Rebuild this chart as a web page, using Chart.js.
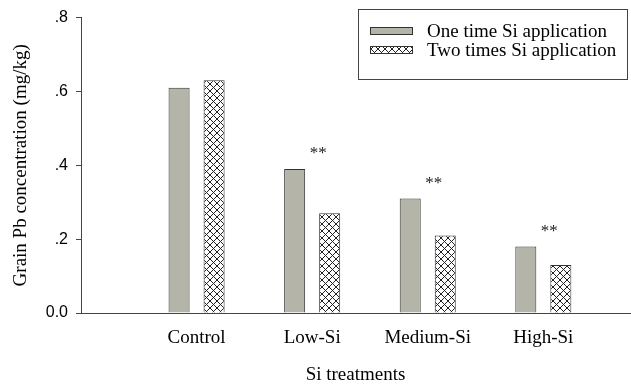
<!DOCTYPE html>
<html>
<head>
<meta charset="utf-8">
<script src="https://cdn.jsdelivr.net/npm/chart.js@4/dist/chart.umd.min.js"></script>
<style>
  html, body { margin: 0; padding: 0; background: #fff; overflow: hidden; }
  #wrap { width: 631px; height: 385px; position: relative; }
</style>
</head>
<body>
<div id="wrap"><canvas id="c" width="631" height="385"></canvas></div>
<script>
// ---- data ----
const categories = ['Control', 'Low-Si', 'Medium-Si', 'High-Si'];
const seriesNames = ['One time Si application', 'Two times Si application'];
const oneTime = [0.61, 0.39, 0.31, 0.18];
const twoTimes = [0.63, 0.27, 0.21, 0.13];
const significance = ['', '**', '**', '**'];
const yTickValues = [0, 0.2, 0.4, 0.6, 0.8];

// ---- styles ----
const SERIF = '"Liberation Serif", "Times New Roman", serif';
const SANS = '"Liberation Sans", Arial, sans-serif';
const AXIS = '#444';

function hatchPattern() {
  const s = 7;
  const c = document.createElement('canvas');
  c.width = s; c.height = s;
  const g = c.getContext('2d');
  g.fillStyle = '#fff';
  g.fillRect(0, 0, s, s);
  g.strokeStyle = '#222';
  g.lineWidth = 1;
  g.beginPath();
  g.moveTo(-1, -1); g.lineTo(s + 1, s + 1);
  g.moveTo(-1, s + 1); g.lineTo(s + 1, -1);
  g.stroke();
  return g.createPattern(c, 'repeat');
}
const hatch = hatchPattern();

const points = arr => arr.map((v, i) => ({ x: i + 1, y: v }));

const legendBox = {
  id: 'legendBox',
  afterDraw(chart) {
    const ctx = chart.ctx;
    ctx.save();
    ctx.strokeStyle = AXIS;
    ctx.lineWidth = 1;
    ctx.strokeRect(358.5, 9.5, 269, 70);
    chart.data.datasets.forEach((ds, i) => {
      const y = 27 + i * 19;
      ctx.fillStyle = ds.backgroundColor;
      ctx.fillRect(370, y, 43, 8);
      ctx.strokeStyle = '#333';
      ctx.strokeRect(370.5, y + 0.5, 42, 7);
      ctx.fillStyle = '#000';
      ctx.font = '19px ' + SERIF;
      ctx.textBaseline = 'middle';
      ctx.textAlign = 'left';
      ctx.fillText(ds.label, 427, y + 5);
    });
    ctx.restore();
  }
};

const sigMarks = {
  id: 'sigMarks',
  afterDatasetsDraw(chart) {
    const ctx = chart.ctx;
    const xs = chart.scales.x, ys = chart.scales.y;
    ctx.save();
    ctx.fillStyle = '#222';
    ctx.font = '17px ' + SERIF;
    ctx.textAlign = 'center';
    ctx.textBaseline = 'middle';
    significance.forEach((s, i) => {
      if (!s) return;
      const x = xs.getPixelForValue(i + 1) + 6;
      const y = ys.getPixelForValue(Math.max(oneTime[i], twoTimes[i])) - 15;
      ctx.fillText(s, x, y);
    });
    ctx.restore();
  }
};

new Chart(document.getElementById('c'), {
  type: 'bar',
  data: {
    datasets: [
      {
        label: seriesNames[0],
        data: points(oneTime),
        backgroundColor: '#b4b4a8',
        borderColor: '#333',
        borderWidth: 1,
        categoryPercentage: 0.606,
        barPercentage: 0.6
      },
      {
        label: seriesNames[1],
        data: points(twoTimes),
        backgroundColor: hatch,
        borderColor: '#333',
        borderWidth: 1,
        categoryPercentage: 0.606,
        barPercentage: 0.6
      }
    ]
  },
  options: {
    responsive: false,
    animation: false,
    layout: { padding: { left: 0, top: 14, right: 1, bottom: 0 } },
    plugins: { legend: { display: false }, tooltip: { enabled: false } },
    scales: {
      x: {
        type: 'linear',
        offset: false,
        min: 0,
        max: 4.75,
        grid: { display: false, drawTicks: false },
        border: { display: true, color: AXIS, width: 1 },
        ticks: {
          stepSize: 1,
          includeBounds: false,
          autoSkip: false,
          maxRotation: 0,
          padding: 14,
          color: '#000',
          font: { family: SERIF, size: 19 },
          callback: v => (Number.isInteger(v) && v >= 1 && v <= categories.length) ? categories[v - 1] : ''
        },
        title: {
          display: true,
          text: 'Si treatments',
          color: '#000',
          font: { family: SERIF, size: 19, lineHeight: 1 },
          padding: { top: 0, bottom: 0 }
        },
        afterFit: s => { s.height = 72; }
      },
      y: {
        min: 0,
        max: 0.8,
        grid: { display: true, drawOnChartArea: false, drawTicks: true, tickLength: 5, color: AXIS },
        border: { display: true, color: AXIS, width: 1 },
        afterBuildTicks: s => { s.ticks = yTickValues.map(v => ({ value: v })); },
        ticks: {
          padding: 8,
          color: '#000',
          font: { family: SANS, size: 16 },
          callback: v => v === 0 ? '0.0' : v.toFixed(1).replace(/^0/, '')
        },
        title: {
          display: true,
          text: 'Grain Pb concentration (mg/kg)',
          color: '#000',
          font: { family: SERIF, size: 19, lineHeight: 1 },
          padding: { top: 12, bottom: 0 }
        },
        afterFit: s => { s.width = 81; }
      }
    }
  },
  plugins: [legendBox, sigMarks]
});
</script>
</body>
</html>
